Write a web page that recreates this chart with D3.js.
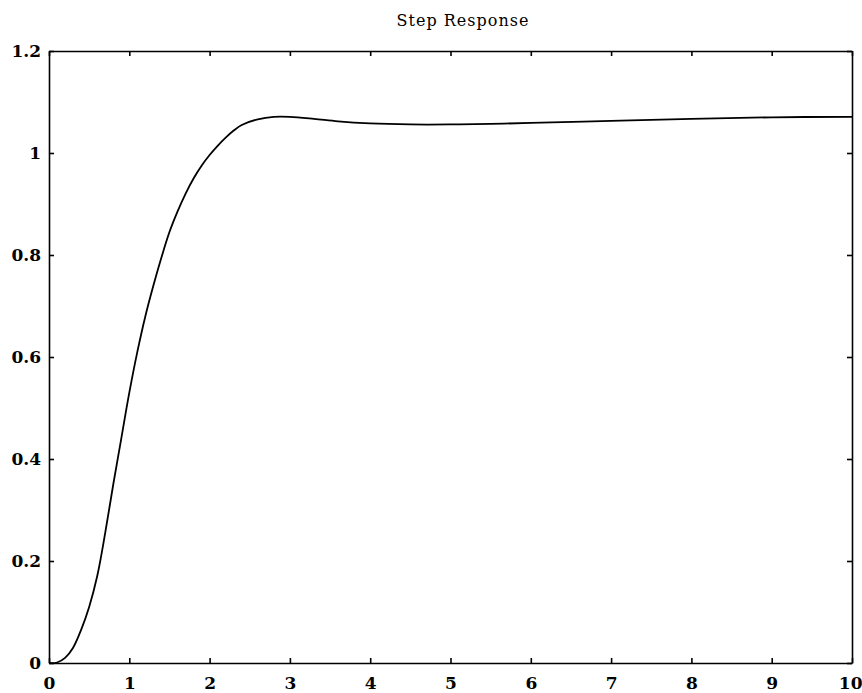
<!DOCTYPE html>
<html>
<head>
<meta charset="utf-8">
<script src="https://cdn.jsdelivr.net/npm/d3@7"></script>
<style>
    body { margin: 0; background: #fff; }
    svg { display: block; }
</style>
</head>
<body>
<script>
// step response
const timeValues = [0, 0.1, 0.2, 0.3, 0.4, 0.5, 0.6, 0.7, 0.8, 0.9, 1.0, 1.1, 1.2, 1.3, 1.4, 1.5, 1.6, 1.7, 1.8, 1.9, 2.0, 2.1, 2.2, 2.3, 2.4, 2.6, 2.8, 3.0, 3.3, 3.6, 4.0, 4.5, 5.0, 5.5, 6.0, 7.0, 8.0, 9.0, 10];
const responseValues = [0, 0.001, 0.01, 0.03, 0.065, 0.11, 0.17, 0.255, 0.35, 0.44, 0.53, 0.61, 0.68, 0.74, 0.795, 0.845, 0.885, 0.92, 0.95, 0.975, 0.996, 1.014, 1.03, 1.044, 1.055, 1.066, 1.071, 1.071, 1.067, 1.062, 1.058, 1.056, 1.056, 1.057, 1.059, 1.063, 1.067, 1.07, 1.071];
const xTicks = [0, 1, 2, 3, 4, 5, 6, 7, 8, 9, 10];
const yTicks = [0, 0.2, 0.4, 0.6, 0.8, 1, 1.2];
const chartTitle = "Step Response";

const svgWidth = 862, svgHeight = 693;
const margin = { top: 51, right: 10, bottom: 30, left: 49 };

const svg = d3.select("body")
    .append("svg")
    .attr("width", svgWidth)
    .attr("height", svgHeight);

const xScale = d3.scaleLinear()
    .domain([0, 10])
    .range([margin.left, svgWidth - margin.right]);

const yScale = d3.scaleLinear()
    .domain([0, 1.2])
    .range([svgHeight - margin.bottom, margin.top]);

const fmt = d => d3.format("")(+d.toFixed(1));

// bottom axis with labels, ticks pointing in
const xAxisG = svg.append("g")
    .attr("class", "axis")
    .attr("transform", `translate(0,${yScale(0)})`)
    .call(d3.axisBottom(xScale).tickValues(xTicks).tickSize(-5).tickSizeOuter(0).tickPadding(14).tickFormat(fmt));

svg.append("g")
    .attr("class", "axis")
    .attr("transform", `translate(${xScale(0)},0)`)
    .call(d3.axisLeft(yScale).tickValues(yTicks).tickSize(-5).tickSizeOuter(0).tickPadding(8).tickFormat(fmt));

// top and right, ticks only
svg.append("g")
    .attr("class", "axis")
    .attr("transform", `translate(0,${yScale(1.2)})`)
    .call(d3.axisTop(xScale).tickValues(xTicks).tickSize(-5).tickSizeOuter(0).tickFormat(""));

svg.append("g")
    .attr("class", "axis")
    .attr("transform", `translate(${xScale(10)},0)`)
    .call(d3.axisRight(yScale).tickValues(yTicks).tickSize(-5).tickSizeOuter(0).tickFormat(""));

svg.selectAll(".axis path, .axis line")
    .attr("stroke", "#000")
    .attr("stroke-width", 1.6);

svg.selectAll(".axis text")
    .attr("fill", "#000")
    .style("font-family", "'DejaVu Serif', serif")
    .style("font-weight", "bold")
    .style("font-size", "17px");

// keep the "10" inside the page
xAxisG.selectAll(".tick")
    .filter(d => d === 10)
    .select("text")
    .attr("text-anchor", "end")
    .attr("x", 10);

const line = d3.line()
    .x((d, i) => xScale(timeValues[i]))
    .y(d => yScale(d))
    .curve(d3.curveCatmullRom);

svg.append("path")
    .datum(responseValues)
    .attr("fill", "none")
    .attr("stroke", "#000")
    .attr("stroke-width", 1.8)
    .attr("d", line);

svg.append("text")
    .attr("x", 463)
    .attr("y", 26)
    .attr("text-anchor", "middle")
    .style("font-family", "'DejaVu Serif', serif")
    .style("font-size", "16px")
    .style("letter-spacing", "1px")
    .text(chartTitle);
</script>
</body>
</html>
